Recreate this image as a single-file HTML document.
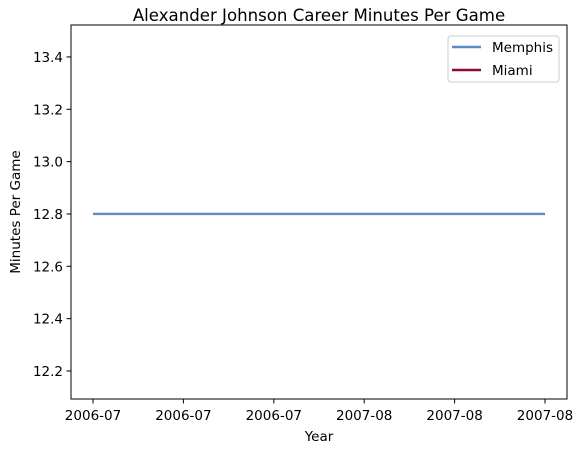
<!DOCTYPE html>
<html><head><meta charset="utf-8"><style>
body{margin:0;background:#fff;}
svg text{font-family:"DejaVu Sans","Liberation Sans",sans-serif;fill:#000;}
</style></head><body>
<svg id="chart" width="582" height="453" xmlns="http://www.w3.org/2000/svg">
<text x="319" y="21" font-size="16.6" text-anchor="middle">Alexander Johnson Career Minutes Per Game</text>
<g id="yticks"></g><g id="xticks"></g><g id="lines"></g>
<rect x="71" y="25" width="496" height="374" fill="none" stroke="#000" stroke-width="1"/>
<text x="319" y="441" font-size="13.5" text-anchor="middle">Year</text>
<text transform="translate(20,212) rotate(-90)" font-size="13.5" text-anchor="middle">Minutes Per Game</text>
<g>
<rect x="448" y="36" width="111" height="46" rx="3" fill="#fff" stroke="#ccc"/>
<line x1="452" y1="47" x2="481" y2="47" stroke="#5b8ac4" stroke-width="2.4"/>
<text x="492" y="52" font-size="13.5">Memphis</text>
<line x1="452" y1="70" x2="481" y2="70" stroke="#8b0a3a" stroke-width="2.4"/>
<text x="492" y="75" font-size="13.5">Miami</text>
</g>
</svg>
<script>
const years=['2006-07','2007-08'];
const memphisValues=[12.8,12.8];
const miamiValues=[];
const yTickValues=[12.2,12.4,12.6,12.8,13.0,13.2,13.4];
const xTickLabels=['2006-07','2006-07','2006-07','2007-08','2007-08','2007-08'];
const ns='http://www.w3.org/2000/svg';
const yMin=12.093,yMax=13.522;
function yScale(v){return 399-(v-yMin)/(yMax-yMin)*374;}
function xScale(f){return 93+f*452;}
function mk(t,a,p){const e=document.createElementNS(ns,t);for(const k in a)e.setAttribute(k,a[k]);p.appendChild(e);return e;}
const yg=document.getElementById('yticks');
yTickValues.forEach(v=>{const y=yScale(v);
 const l=mk('line',{x1:66.5,x2:71,y1:y,y2:y,stroke:'#000'},yg);
 
 
 const t=mk('text',{x:63,y:y+5,'font-size':13.5,'text-anchor':'end'},yg);t.textContent=v.toFixed(1);
 
 
});
const xg=document.getElementById('xticks');
xTickLabels.forEach((s,i)=>{const x=xScale(i/(xTickLabels.length-1));
 const l=mk('line',{x1:x,x2:x,y1:399,y2:403.5,stroke:'#000'},xg);
 
 
 const t=mk('text',{x:x,y:420,'font-size':13.5,'text-anchor':'middle'},xg);t.textContent=s;
 
 
});
const lg=document.getElementById('lines');
function series(vals,color,name){if(vals.length<1)return;
 const pts=vals.map((v,i)=>xScale(vals.length>1?i/(vals.length-1):0)+','+yScale(v)).join(' ');
 const p=mk('polyline',{points:pts,fill:'none',stroke:color,'stroke-width':2.4},lg);
 
 
}
series(memphisValues,'#5b8ac4','memphis-line');
series(miamiValues,'#8b0a3a','miami-line');
</script>
</body></html>
